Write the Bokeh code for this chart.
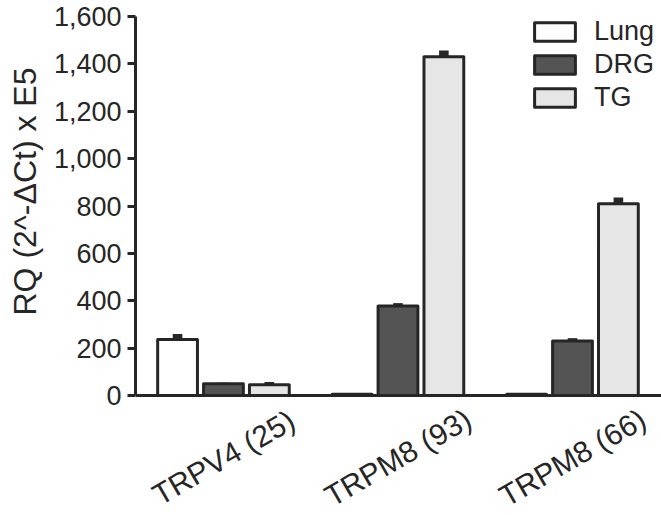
import math
from bokeh.plotting import figure
from bokeh.models import (ColumnDataSource, Range1d, NumeralTickFormatter, FixedTicker,
                          Legend, LegendItem, Span, Title)
from bokeh.core.properties import value
from bokeh.transform import dodge
from bokeh.embed import file_html
from bokeh.resources import INLINE

# ---- data ----
categories = ["TRPV4 (25)", "TRPM8 (93)", "TRPM8 (66)"]
series = ["Lung", "DRG", "TG"]
lung = [236, 5, 5]
drg = [50, 378, 230]
tg = [45, 1430, 810]
lung_err = [24, 2, 2]
drg_err = [4, 12, 12]
tg_err = [12, 26, 26]
y_ticks = [0, 200, 400, 600, 800, 1000, 1200, 1400, 1600]
y_title = "RQ (2^-\u0394Ct) x E5"

FONT = "Liberation Sans"
DARK = "#262626"
colors = ["#ffffff", "#545454", "#e6e6e6"]

# layout (pixels, page coordinates)
W, H = 661, 515
FRAME_LEFT_PX = 135
FRAME_TOP_PX = 16
ZERO_PX = 395
FRAME_BOTTOM_PX = H
Y_MAX = 1600
px_per_unit = (ZERO_PX - FRAME_TOP_PX) / Y_MAX
y_start = -(FRAME_BOTTOM_PX - ZERO_PX) / px_per_unit

group_x = list(range(len(categories)))
src = ColumnDataSource(dict(
    x=group_x, cat=categories, zero=[0] * len(categories),
    lung=lung, drg=drg, tg=tg,
    lung_top=[v + e for v, e in zip(lung, lung_err)],
    drg_top=[v + e for v, e in zip(drg, drg_err)],
    tg_top=[v + e for v, e in zip(tg, tg_err)],
))

p = figure(width=W, height=H, output_backend="svg", toolbar_location=None,
           x_range=Range1d(-0.504, 2.51), y_range=Range1d(y_start, Y_MAX),
           min_border_left=FRAME_LEFT_PX, min_border_right=0, min_border_top=FRAME_TOP_PX,
           min_border_bottom=0)
p.outline_line_color = None
p.xgrid.visible = False
p.ygrid.visible = False
p.xaxis.visible = False
p.background_fill_color = "white"

offsets = [-0.263, 0.0, 0.263]
keys = ["lung", "drg", "tg"]
items = []
for key, name, col, off in zip(keys, series, colors, offsets):
    r = p.vbar(x=dodge("x", off), top=key, bottom=0, width=0.228, source=src,
               fill_color=col, line_color=DARK, line_width=3, line_join="round")
    items.append(LegendItem(label=name, renderers=[r]))
    # error bar (upper part visible above bar)
    p.vbar(x=dodge("x", off), top=key + "_top", bottom=key, width=0.055, source=src,
           fill_color=DARK, line_color=None)

# x axis line at zero
p.add_layout(Span(location=0, dimension="width", line_color=DARK, line_width=3))

legend = Legend(items=items, location=(394, FRAME_BOTTOM_PX - 113), padding=0, margin=0,
                spacing=2, glyph_width=51, glyph_height=23, label_height=31,
                label_standoff=14, label_text_font=FONT, label_text_font_size="27px",
                label_text_color=DARK, border_line_color=None, background_fill_alpha=0)
p.add_layout(legend)

# y axis
ya = p.yaxis[0]
ya.bounds = (0, Y_MAX)
ya.ticker = FixedTicker(ticks=y_ticks)
ya.formatter = NumeralTickFormatter(format="0,0")
ya.axis_line_width = 3
ya.axis_line_color = DARK
ya.major_tick_line_width = 3
ya.major_tick_line_color = DARK
ya.major_tick_out = 8
ya.major_tick_in = 0
ya.minor_tick_line_color = None
ya.major_label_text_font = FONT
ya.major_label_text_font_size = "27px"
ya.major_label_text_color = DARK
ya.major_label_standoff = 6

# y axis title (placed along the 0..1600 part of the axis)
title = Title(text=y_title, align="left", offset=FRAME_BOTTOM_PX - 315,
              vertical_align="top", text_font=FONT, text_font_size="32px",
              text_font_style="normal", text_color=DARK, standoff=12)
p.add_layout(title, "left")

# category labels below the axis
p.text(x="x", y="zero", text="cat", source=src, angle=math.radians(30),
       text_align="center", text_baseline="middle", y_offset=62,
       text_font=value(FONT), text_font_size="30px", text_color=DARK)

open("out.html", "w").write(file_html(p, INLINE))
